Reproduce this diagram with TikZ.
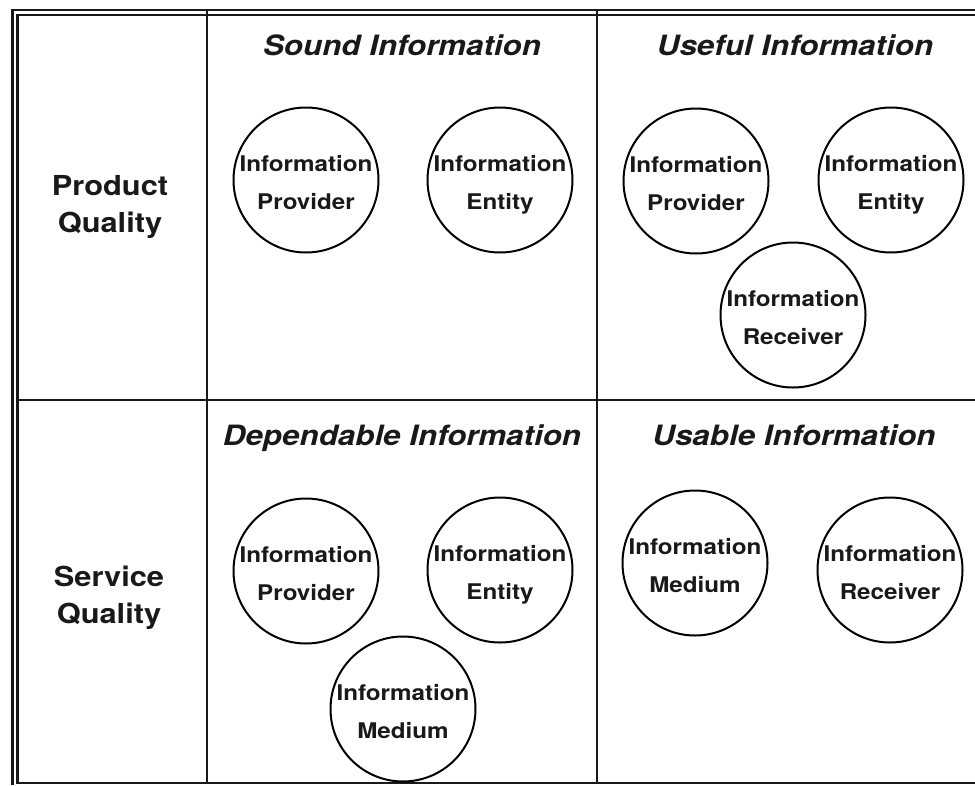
\documentclass[tikz,border=0pt]{standalone}
\usepackage{fontspec}
\setmainfont{TeX Gyre Heros}[FakeStretch=1.12]
\begin{document}
\begin{tikzpicture}[x=1pt,y=-1pt,
  rule/.style={line width=2.2pt,draw=black!90},
  circ/.style={circle,draw=black,line width=2pt,minimum size=145pt,inner sep=0pt},
  ctext/.style={align=center,anchor=base,yshift=-29pt,font={\bfseries\fontsize{21.6}{37.5}\selectfont},text=black!90},
  ttl/.style={anchor=base,font={\bfseries\itshape\fontsize{28}{34}\selectfont},text=black!90},
  side/.style={align=center,anchor=base,font={\bfseries\fontsize{27.5}{37}\selectfont},text=black!90}]
\useasboundingbox (0,0) rectangle (975,785);
% frame
\coordinate (o1) at (12.5,10);
\coordinate (o2) at (975,10);
\coordinate (o3) at (12.5,785);
\coordinate (i1) at (17.5,15);
\coordinate (i2) at (975,15);
\coordinate (i3) at (17.5,783);
\coordinate (i4) at (975,783);
\draw[rule] (o2) -- (o1) -- (o3);
\draw[rule] (i2) -- (i1) -- (i3) -- (i4);
\coordinate (v1t) at (207,10);
\coordinate (v1b) at (207,783);
\coordinate (v2t) at (597,10);
\coordinate (v2b) at (597,783);
\coordinate (hl) at (17.5,400);
\coordinate (hr) at (975,400);
\draw[rule] (v1t) -- (v1b);
\draw[rule] (v2t) -- (v2b);
\draw[rule] (hl) -- (hr);
% row labels
\node[side] (pq) at (110,232) {Product\\Quality};
\node[side] (sq) at (109,623) {Service\\Quality};
% titles
\node[ttl] (t1) at (402,55) {Sound Information};
\node[ttl] (t2) at (795,55) {Useful Information};
\node[ttl] (t3) at (402,445) {Dependable Information};
\node[ttl] (t4) at (794,445) {Usable Information};
% circles: sound
\node[circ] (sp) at (306,180) {};
\node[ctext] (spt) at (sp) {Information\\Provider};
\node[circ] (se) at (500,180) {};
\node[ctext] (set) at (se) {Information\\Entity};
% useful
\node[circ] (up) at (696,181) {};
\node[ctext] (upt) at (up) {Information\\Provider};
\node[circ] (ue) at (891,180) {};
\node[ctext] (uet) at (ue) {Information\\Entity};
\node[circ] (ur) at (793,315) {};
\node[ctext] (urt) at (ur) {Information\\Receiver};
% dependable
\node[circ] (dp) at (306,571) {};
\node[ctext] (dpt) at (dp) {Information\\Provider};
\node[circ] (de) at (500,570) {};
\node[ctext] (det) at (de) {Information\\Entity};
\node[circ] (dm) at (403,709) {};
\node[ctext] (dmt) at (dm) {Information\\Medium};
% usable
\node[circ] (am) at (695,563) {};
\node[ctext] (amt) at (am) {Information\\Medium};
\node[circ] (ar) at (890,570) {};
\node[ctext] (art) at (ar) {Information\\Receiver};
\end{tikzpicture}
\end{document}
